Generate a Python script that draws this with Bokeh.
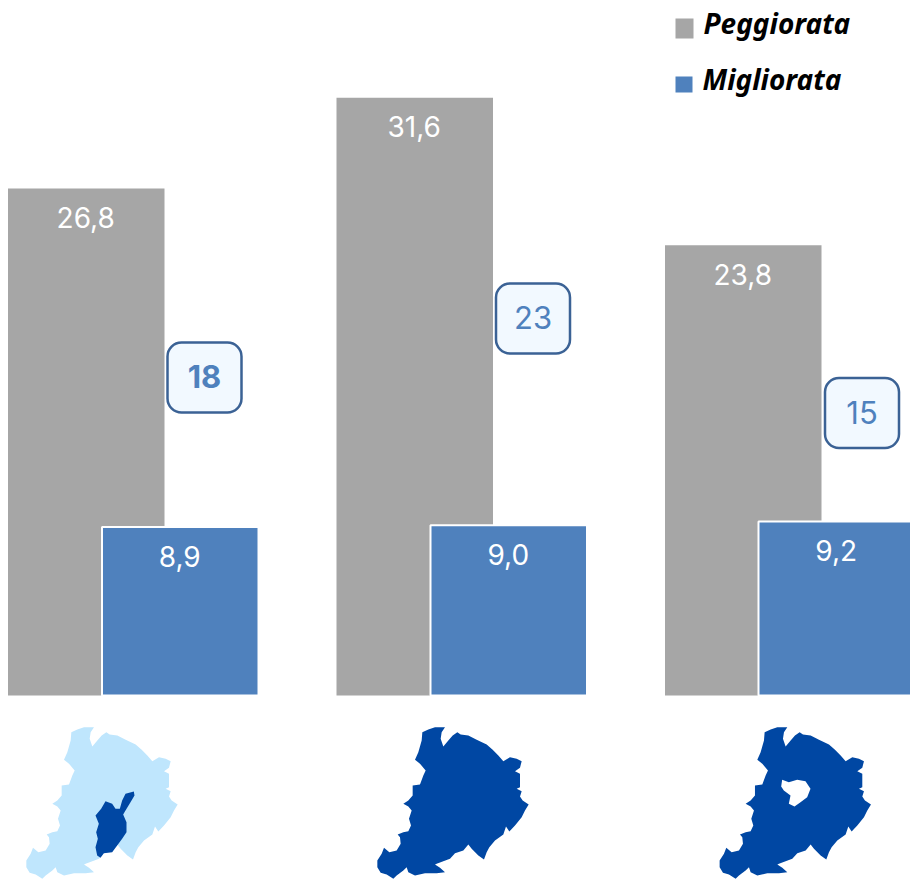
from bokeh.plotting import figure
from bokeh.models import Range1d
from bokeh.embed import file_html
from bokeh.resources import INLINE
from bokeh.core.properties import value

peggiorata = [26.8, 31.6, 23.8]
migliorata = [8.9, 9.0, 9.2]
differenza = ["18", "23", "15"]
differenza_style = ["bold", "normal", "normal"]
legenda = ["Peggiorata", "Migliorata"]

GRAY = "#a6a6a6"
BLUE = "#4f81bd"
DARK = "#0047a3"
LIGHT = "#bfe6fd"

# layout, picture pixels
gray_left = [7.5, 336, 664.5]
blue_left = [101.5, 430, 758]
bar_w = 156.5
PX_PER_UNIT = 18.92
BASE_Y = 695
map_dx = [-351.5, -0.5, 341.8]
box_left = [167, 495.5, 824.5]
box_top = [342, 283, 377.5]

# map outline, traced in a 3x crop whose origin is (340, 710)
outline_x = [247,265,285,315,305,302,310,325,338,352,362,385,410,440,458,475,490,510,530,545,540,525,540,540,530,545,540,548,566,555,545,525,508,498,490,465,448,440,432,415,395,385,370,345,330,290,285,300,315,290,255,225,205,200,190,170,160,140,122,112,112,125,132,148,170,182,180,173,190,205,213,207,215,205,190,205,218,218,240,250,257,240,225,235,245]
outline_y = [65,57,50,50,65,85,108,90,75,65,72,75,88,102,118,135,152,140,145,152,172,182,190,230,235,242,258,270,282,300,320,345,363,348,372,390,410,425,447,435,415,402,420,428,445,460,462,472,485,488,488,495,485,470,480,495,505,492,487,470,450,430,412,425,420,400,380,372,365,362,345,325,300,288,280,270,255,225,222,195,180,160,148,125,90]
# inner comune, crop origin (0, 710)
inner_x = [375,400,402,390,375,368,378,378,365,350,335,310,300,290,285,292,287,295,285,302,315,335,345,358,365]
inner_y = [250,243,255,275,300,312,335,365,385,405,425,428,442,435,410,385,365,340,315,295,272,280,295,295,270]
# hole, crop origin (690, 710)
hole_x = [275,295,320,345,360,350,330,312,295,300,280,272]
hole_y = [208,215,208,212,235,260,275,288,280,255,240,228]

p = figure(width=910, height=879, output_backend="svg", toolbar_location=None,
           x_range=Range1d(0, 910),
           y_range=Range1d((BASE_Y - 879) / PX_PER_UNIT, BASE_Y / PX_PER_UNIT),
           min_border=0, outline_line_color=None, background_fill_color="white")
p.axis.visible = False
p.grid.visible = False
p.extra_y_ranges = {"px": Range1d(879, 0)}

# bars
p.quad(left=gray_left, right=[x + bar_w for x in gray_left], bottom=0, top=peggiorata,
       fill_color=GRAY, line_color=None)
p.quad(left=blue_left, right=[x + bar_w for x in blue_left], bottom=0, top=migliorata,
       fill_color=BLUE, line_color="white", line_width=2)

label_font = value("Inter")
p.text(x=[x + bar_w / 2 - 0.5 for x in gray_left], y=peggiorata, text=[f"{v:.1f}".replace(".", ",") for v in peggiorata],
       text_color="white", text_font=label_font, text_font_size="28px",
       text_align="center", text_baseline="middle", y_offset=29)
p.text(x=[x + bar_w / 2 - 0.5 for x in blue_left], y=migliorata, text=[f"{v:.1f}".replace(".", ",") for v in migliorata],
       text_color="white", text_font=label_font, text_font_size="28px",
       text_align="center", text_baseline="middle", y_offset=29)

# difference boxes
p.quad(left=box_left, right=[x + 74 for x in box_left], top=box_top, bottom=[y + 70 for y in box_top],
       y_range_name="px", fill_color="#f2f9ff", line_color="#3b6295", line_width=2.5, border_radius=14)
for x, y, t, st in zip(box_left, box_top, differenza, differenza_style):
    p.text(x=[x + 37], y=[y + 34], text=[t], y_range_name="px", text_color=BLUE,
           text_font=label_font, text_font_size="31px", text_font_style=st,
           text_align="center", text_baseline="middle")

# maps
ox = [340 + v / 3 for v in outline_x]
oy = [710 + v / 3 for v in outline_y]
p.patch([x + map_dx[0] for x in ox], oy, y_range_name="px", fill_color=LIGHT, line_color=None)
p.patch([v / 3 for v in inner_x], [710 + v / 3 for v in inner_y], y_range_name="px", fill_color=DARK, line_color=None)
p.patch([x + map_dx[1] for x in ox], oy, y_range_name="px", fill_color=DARK, line_color=None)
p.patch([x + map_dx[2] for x in ox], oy, y_range_name="px", fill_color=DARK, line_color=None)
p.patch([690 + v / 3 for v in hole_x], [710 + v / 3 for v in hole_y], y_range_name="px", fill_color="white", line_color=None)

# legend
p.quad(left=[675, 675], right=[693, 692], top=[18, 76], bottom=[38, 92], y_range_name="px",
       fill_color=[GRAY, BLUE], line_color=None)
p.text(x=[703, 702], y=[22, 78], text=legenda, y_range_name="px", text_color="black",
       text_font=value("Noto Sans"), text_font_size="28px", text_font_style="bold italic",
       text_align="left", text_baseline="middle")

open("out.html", "w").write(file_html(p, INLINE))
